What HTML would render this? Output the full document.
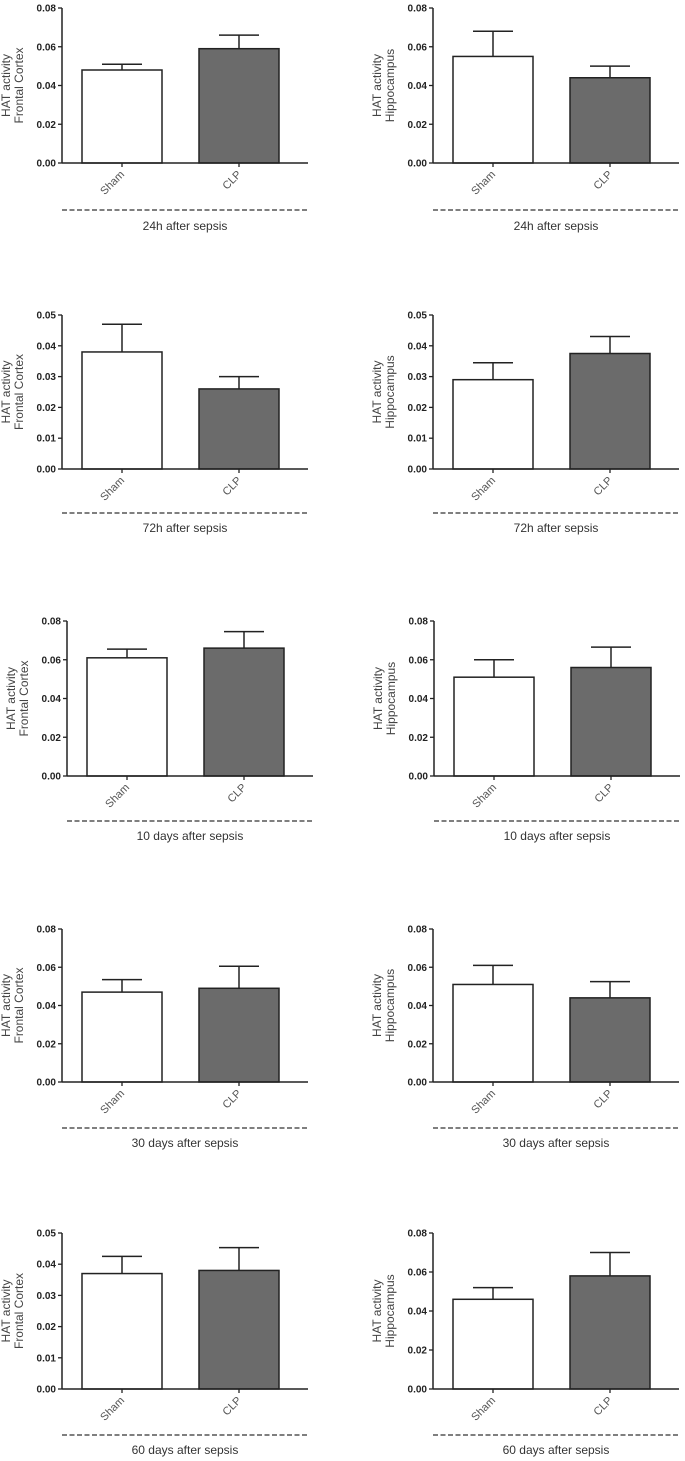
<!DOCTYPE html>
<html><head><meta charset="utf-8"><style>
body{margin:0;background:#fff;}
svg{display:block;font-family:"Liberation Sans",sans-serif;}
</style></head><body>
<svg id="c" width="685" height="1461"></svg>
<script>
const categories=["Sham","CLP"];
const timepoints=["24h after sepsis","72h after sepsis","10 days after sepsis","30 days after sepsis","60 days after sepsis"];
const regions=["Frontal Cortex","Hippocampus"];
const fcMeans=[[0.048,0.059],[0.038,0.026],[0.061,0.066],[0.047,0.049],[0.037,0.038]];
const fcErrors=[[0.003,0.007],[0.009,0.004],[0.0045,0.0085],[0.0065,0.0115],[0.0055,0.0073]];
const hcMeans=[[0.055,0.044],[0.029,0.0375],[0.051,0.056],[0.051,0.044],[0.046,0.058]];
const hcErrors=[[0.013,0.006],[0.0055,0.0055],[0.009,0.0105],[0.010,0.0085],[0.006,0.012]];
const fcMax=[0.08,0.05,0.08,0.08,0.05];
const hcMax=[0.08,0.05,0.08,0.08,0.08];

const svg=document.getElementById('c');
const NS='http://www.w3.org/2000/svg';
function mk(t,a,p){const e=document.createElementNS(NS,t);for(const k in a)e.setAttribute(k,a[k]);(p||svg).appendChild(e);return e;}
const rowGeom=[[8,163,210,226],[315,469,513,528],[621,776,821,836],[929,1082,1128,1143],[1233,1389,1435,1450]];
const colX=[[62,62,67,62,62],[433,433,434,433,433]];

function panel(r,c){
  const [yT,yB,yD,yL]=rowGeom[r];const x0=colX[c][r];
  const max=c===0?fcMax[r]:hcMax[r];
  const means=c===0?fcMeans[r]:hcMeans[r];
  const errs=c===0?fcErrors[r]:hcErrors[r];
  const y=v=>yB-(v/max)*(yB-yT);
  const g=mk('g',{});
  
  
  const step=max===0.05?0.01:0.02;
  const n=Math.round(max/step);
  for(let i=0;i<=n;i++){
    const v=i*step,yy=y(v);
    const tk=mk('line',{x1:x0-4,x2:x0,y1:yy,y2:yy,stroke:'#222','stroke-width':1.3},g);
    
    const t=mk('text',{x:x0-6,y:yy+3.5,'text-anchor':'end','font-size':10,'font-weight':'bold',fill:'#222'},g);
    t.textContent=v.toFixed(2);
    
  }
  const bx=[20,137];
  means.forEach((m,i)=>{
    const cx=x0+bx[i]+40;const top=y(m+errs[i]);
    const e1=mk('line',{x1:cx,x2:cx,y1:top,y2:y(m),stroke:'#222','stroke-width':1.5},g);
    
    const e2=mk('line',{x1:cx-20,x2:cx+20,y1:top,y2:top,stroke:'#222','stroke-width':1.5},g);
    
    const b=mk('rect',{x:x0+bx[i],y:y(m),width:80,height:yB-y(m),fill:i?'#6b6b6b':'#fff',stroke:'#222','stroke-width':1.5},g);
    
    const xt=mk('line',{x1:cx,x2:cx,y1:yB,y2:yB+4,stroke:'#222','stroke-width':1.3},g);
    
    const lt=mk('text',{x:cx+3,y:yB+12,'text-anchor':'end','font-size':11,fill:'#555',transform:`rotate(-45 ${cx+3} ${yB+12})`},g);
    lt.textContent=categories[i];
    
  });
  const ya=mk('line',{x1:x0,x2:x0,y1:yT,y2:yB,stroke:'#222','stroke-width':1.5},g);
  
  const xa=mk('line',{x1:x0,x2:x0+246,y1:yB,y2:yB,stroke:'#222','stroke-width':1.5},g);
  
  const ymid=(yT+yB)/2;const tx=x0-50;
  const yt=mk('text',{x:tx,y:ymid,'text-anchor':'middle','font-size':12,fill:'#444',transform:`rotate(-90 ${tx} ${ymid})`},g);
  
  const s1=mk('tspan',{x:tx,dy:-2},yt);s1.textContent='HAT activity';
  const s2=mk('tspan',{x:tx,dy:13},yt);s2.textContent=regions[c];
  const d=mk('line',{x1:x0,x2:x0+246,y1:yD,y2:yD,stroke:'#333','stroke-width':1.3,'stroke-dasharray':'5,2.5'},g);
  
  const lb=mk('text',{x:x0+123,y:yL+4,'text-anchor':'middle','font-size':12,fill:'#333'},g);
  lb.textContent=timepoints[r];
  
}
for(let r=0;r<5;r++)for(let c=0;c<2;c++)panel(r,c);
</script>
</body></html>
